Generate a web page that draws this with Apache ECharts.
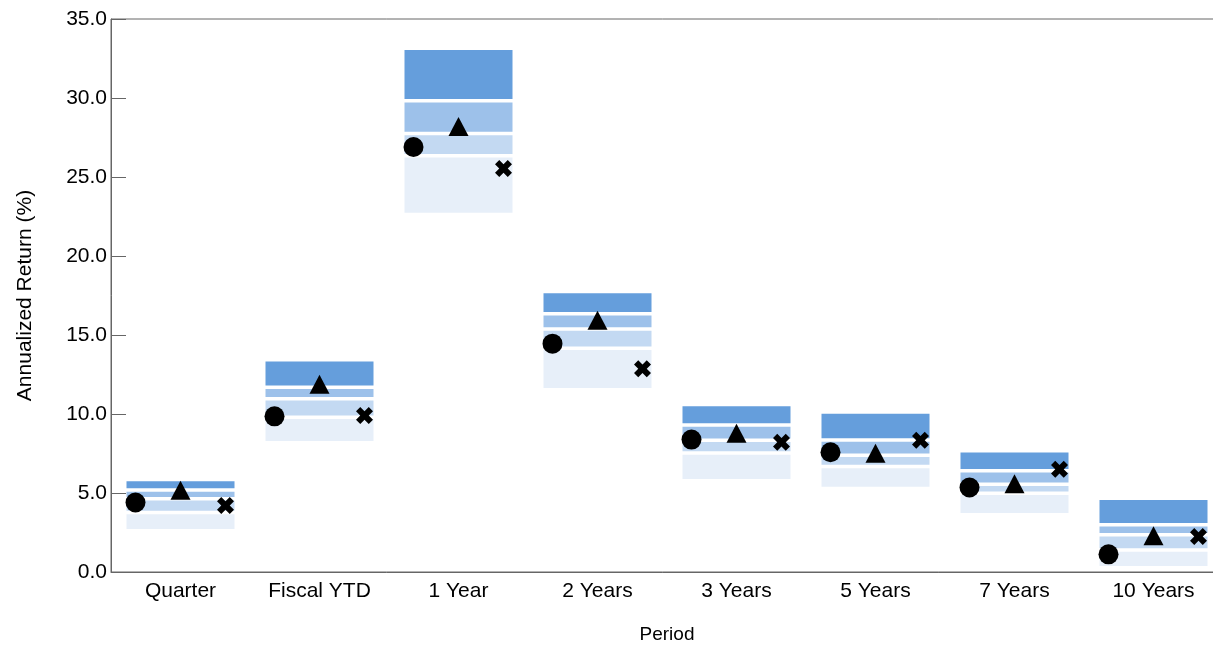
<!DOCTYPE html>
<html>
<head>
<meta charset="utf-8">
<title>Annualized Return by Period</title>
<script src="https://cdn.jsdelivr.net/npm/echarts@6/dist/echarts.min.js"></script>
<style>
  html, body { margin:0; padding:0; background:#fff; }
  #main { width:1213px; height:645px; }
</style>
</head>
<body>
<div id="main"></div>
<script>
// categories on the x axis
var periods = ['Quarter', 'Fiscal YTD', '1 Year', '2 Years', '3 Years', '5 Years', '7 Years', '10 Years'];

// percentile bands (top of box = 5th, bottom = 95th)
var pct5  = [5.75, 13.33, 33.04, 17.65, 10.49, 10.02, 7.56, 4.55];
var pct25 = [5.19, 11.69, 29.82, 16.35,  9.31,  8.36, 6.41, 2.99];
var pct50 = [4.64, 10.97, 27.75, 15.38,  8.34,  7.39, 5.55, 2.35];
var pct75 = [3.76,  9.80, 26.34, 14.16,  7.53,  6.68, 4.98, 1.40];
var pct95 = [2.72,  8.29, 22.73, 11.64,  5.89,  5.39, 3.73, 0.38];

// the three markers
var circleVals   = [4.40,  9.85, 26.90, 14.45, 8.38, 7.58, 5.35, 1.12];
var triangleVals = [5.18, 11.88, 28.20, 15.94, 8.78, 7.52, 5.58, 2.29];
var crossVals    = [4.21,  9.90, 25.54, 12.87, 8.21, 8.34, 6.51, 2.25];

// y axis ticks
var yMin = 0, yMax = 35, yStep = 5;

var bandColors = ['#659edc', '#9dc1ea', '#c3d9f2', '#e7eff9'];
var fontName = "'Liberation Sans', Arial, sans-serif";
var crossPath = 'path://M2.5,0 L5,2.5 L7.5,0 L10,2.5 L7.5,5 L10,7.5 L7.5,10 L5,7.5 L2.5,10 L0,7.5 L2.5,5 L0,2.5 Z';

var bandData = [];
for (var i = 0; i < periods.length; i++) {
    bandData.push([i, pct5[i], pct25[i], pct50[i], pct75[i], pct95[i]]);
}

function renderBands(params, api) {
    var idx = api.value(0);
    var w = api.size([1, 0])[0] * 0.777;
    var cx = api.coord([idx, 0])[0];
    var gap = 1.75;
    var kids = [];
    for (var k = 0; k < 4; k++) {
        var yTop = api.coord([idx, api.value(k + 1)])[1];
        var yBot = api.coord([idx, api.value(k + 2)])[1];
        if (k > 0) yTop += gap;
        if (k < 3) yBot -= gap;
        kids.push({
            type: 'rect',
            shape: { x: cx - w / 2, y: yTop, width: w, height: yBot - yTop },
            style: { fill: bandColors[k] }
        });
    }
    return { type: 'group', children: kids };
}

var myChart = echarts.init(document.getElementById('main'));
var option = {
    backgroundColor: '#fff',
    animation: false,
    grid: {
        left: 111, top: 19, width: 1112, height: 553,
        containLabel: false,
        outerBoundsMode: 'none',
        show: true, borderColor: '#666', borderWidth: 1
    },
    xAxis: {
        type: 'category',
        data: periods,
        name: 'Period',
        nameLocation: 'middle',
        nameGap: 53,
        nameTextStyle: { fontFamily: fontName, fontSize: 19, color: '#000' },
        axisLine: { lineStyle: { color: '#666', width: 1 } },
        axisTick: { show: false },
        axisLabel: { fontFamily: fontName, fontSize: 21, color: '#000', margin: 9 },
        splitLine: { show: false }
    },
    yAxis: {
        type: 'value',
        min: yMin, max: yMax, interval: yStep,
        name: 'Annualized Return (%)',
        nameLocation: 'middle',
        nameGap: 75,
        nameTextStyle: { fontFamily: fontName, fontSize: 21, color: '#000' },
        axisLine: { show: true, lineStyle: { color: '#666', width: 1 } },
        axisTick: { show: true, inside: true, length: 15, lineStyle: { color: '#666' } },
        axisLabel: {
            fontFamily: fontName, fontSize: 21, color: '#000', margin: 4,
            formatter: function (v) { return v.toFixed(1); }
        },
        splitLine: { show: false }
    },
    series: [
        {
            type: 'custom',
            renderItem: renderBands,
            encode: { x: 0, y: [1, 2, 3, 4, 5] },
            data: bandData,
            z: 1
        },
        {
            type: 'scatter',
            data: circleVals,
            symbol: 'circle',
            symbolSize: 20,
            symbolOffset: [-45, 0],
            itemStyle: { color: '#000', opacity: 1 },
            z: 5
        },
        {
            type: 'scatter',
            data: triangleVals,
            symbol: 'triangle',
            symbolSize: [20, 19],
            itemStyle: { color: '#000', opacity: 1 },
            z: 5
        },
        {
            type: 'scatter',
            data: crossVals,
            symbol: crossPath,
            symbolSize: 17,
            symbolOffset: [45, 0],
            itemStyle: { color: '#000', opacity: 1 },
            z: 5
        }
    ]
};
myChart.setOption(option);
</script>
</body>
</html>
